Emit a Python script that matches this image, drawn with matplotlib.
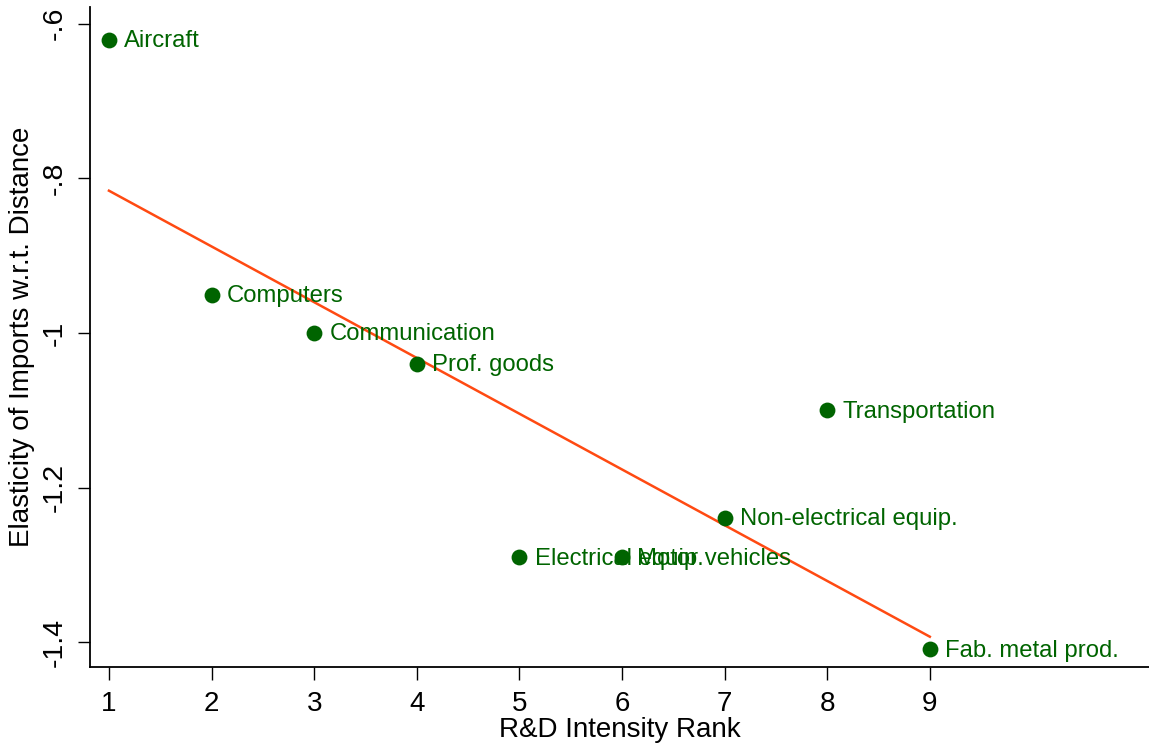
import numpy as np
import matplotlib
matplotlib.use("Agg")
import matplotlib.pyplot as plt

plt.rcParams['font.family'] = ['Liberation Sans', 'DejaVu Sans']

# R&D intensity rank vs. distance elasticity of imports
industries = ['Aircraft', 'Computers', 'Communication', 'Prof. goods',
              'Electrical equip.', 'Motor vehicles', 'Non-electrical equip.',
              'Transportation', 'Fab. metal prod.']
rank = [1, 2, 3, 4, 5, 6, 7, 8, 9]
elasticity = [-0.621, -0.951, -1.0, -1.040, -1.290, -1.290, -1.239, -1.1, -1.409]

green = '#006400'
fit_color = '#ff4a12'

fig = plt.figure(figsize=(11.49, 7.46), dpi=100)
ax = fig.add_axes([0.0783, 0.106, 0.9217, 0.885])

ax.scatter(rank, elasticity, s=130, color=green, zorder=3, linewidths=0)
for name, x, y in zip(industries, rank, elasticity):
    ax.annotate(name, (x, y), xytext=(11, -1), textcoords='offset points',
                va='center', ha='left', color=green, fontsize=17.2)

# linear fit
b, a = np.polyfit(rank, elasticity, 1)
xs = np.array([min(rank), max(rank)])
ax.plot(xs, a + b * xs, color=fit_color, lw=1.8, zorder=2)

ax.set_xlim(0.815, 11.136)
ax.set_ylim(-1.432, -0.578)
ax.set_xticks(rank)
ax.set_xticklabels([str(r) for r in rank], fontsize=20)
ax.set_yticks([-0.6, -0.8, -1.0, -1.2, -1.4])
ax.set_yticklabels(['-.6', '-.8', '-1', '-1.2', '-1.4'], fontsize=20.5,
                   rotation=90, va='center')
ax.tick_params(direction='out', length=9, width=1)
ax.tick_params(axis='x', pad=8)
ax.tick_params(axis='y', pad=7)

for side in ['top', 'right']:
    ax.spines[side].set_visible(False)
for side in ['left', 'bottom']:
    ax.spines[side].set_linewidth(1.3)

ax.set_xlabel('R&D Intensity Rank', fontsize=20, labelpad=0)
ax.set_ylabel('Elasticity of Imports w.r.t. Distance', fontsize=20, labelpad=5)

fig.savefig('out.png', dpi=100)
